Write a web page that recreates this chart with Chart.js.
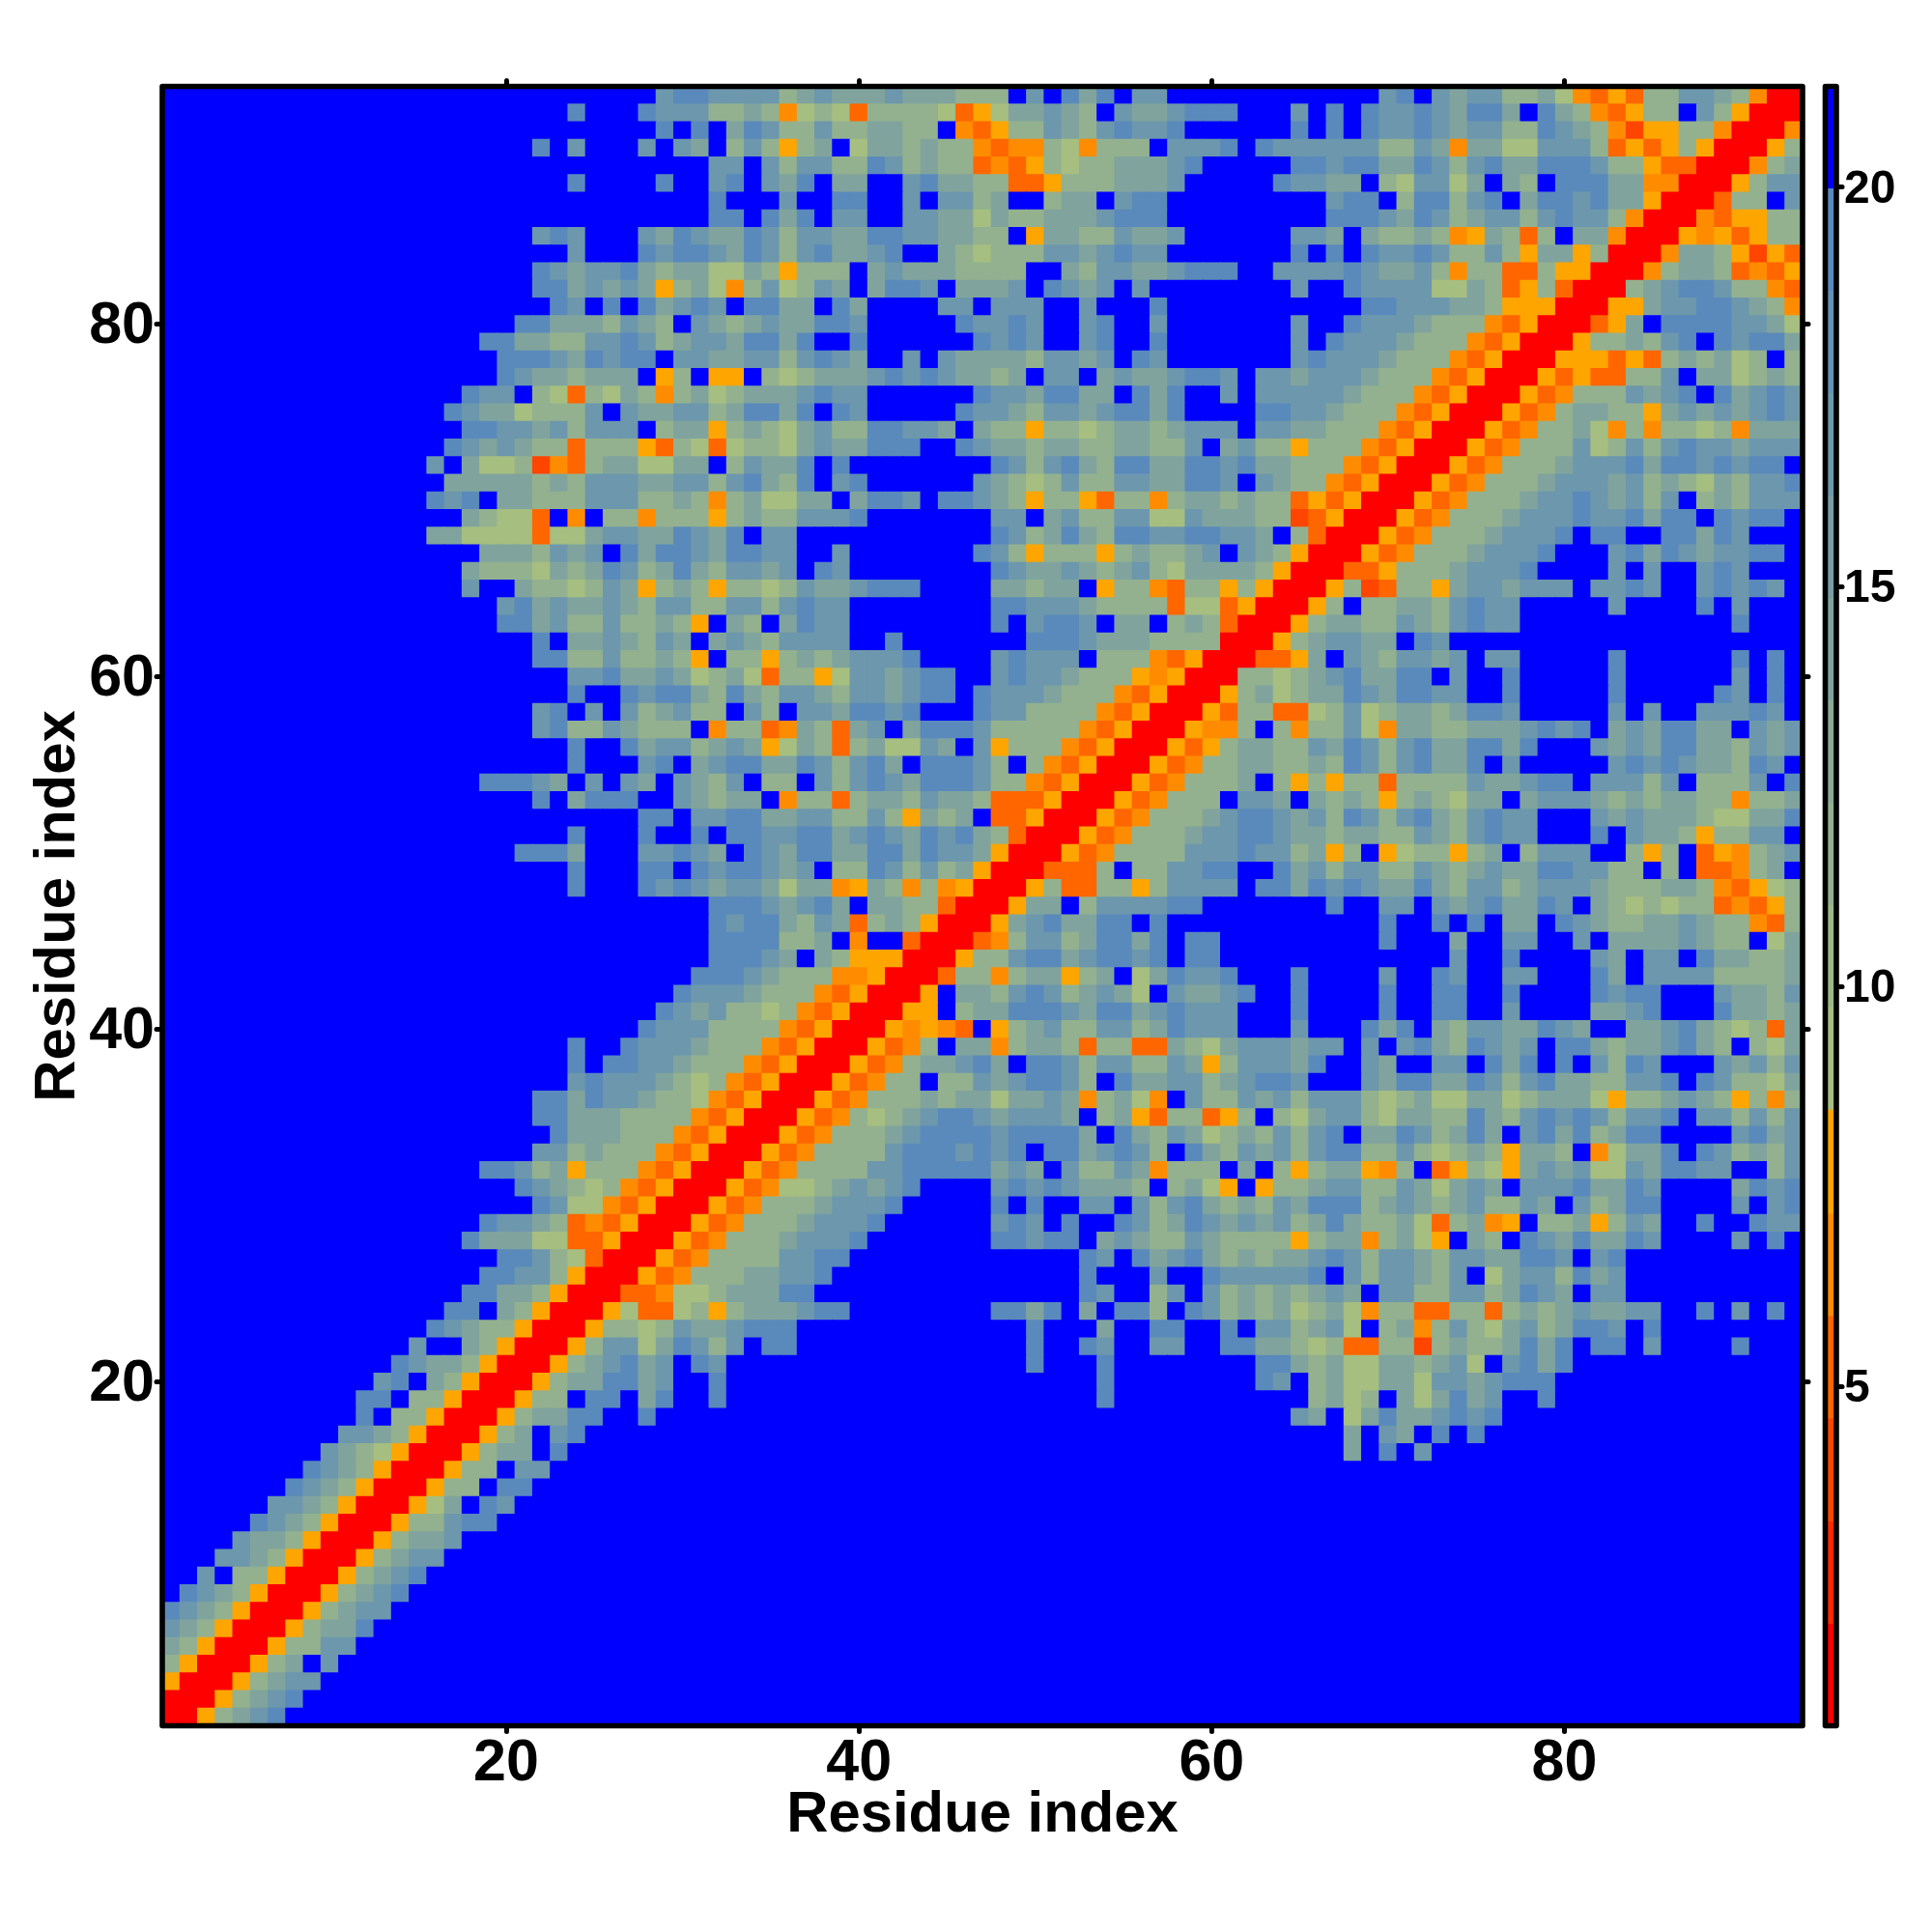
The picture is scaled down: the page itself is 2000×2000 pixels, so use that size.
<!DOCTYPE html>
<html>
<head>
<meta charset="utf-8">
<title>Residue distance map</title>
<script src="https://cdn.jsdelivr.net/npm/chart.js@4/dist/chart.umd.min.js"></script>
<style>
	html, body { margin: 0; padding: 0; background: #fff; }
	canvas { position: absolute; left: 0; top: 0; }
</style>
</head>
<body>
<canvas id="mapChart" width="2000" height="2000"></canvas>
<canvas id="legendChart" width="2000" height="2000"></canvas>
<script>
'use strict';

const axisTitle = 'Residue index';
const residueCount = 93;
const residueTicks = [20, 40, 60, 80];
const legendTicks = [5, 10, 15, 20];

// Colour key: band edges (distance) and the colour of each band
const bandEdges = [0.76, 2.03, 3.31, 4.6, 5.88, 7.16, 8.46, 9.74, 11.02, 12.3, 13.58, 14.86, 16.14, 17.42, 18.7, 19.98, 21.26];
const bandColors = ['#ff0000', '#ff2800', '#ff4500', '#ff6600', '#ff8c00', '#ffa500',
	'#a6be80', '#9db887', '#93b18f', '#8aab96', '#80a49d', '#779ea5', '#6d97ac', '#6491b4', '#5a8abb', '#0000ff'];

// Distance read for each symbol used in the rows below
const symbolValues = { 0: 1.5, d: 3.9, 1: 5.2, 2: 6.5, 3: 7.8, 4: 9, 5: 11.5, 6: 14.2, 7: 16.8, 8: 19.3, 9: 21 };

// Symmetric map, so only x <= y is kept. Rows run from y = 93 downwards.
// Left tiles leave out their leading 9s.
const topLeft = [
	'788', '89998777', '898', '8979997976', '', '89999899', '', '', '7879997687', '79998788',
	'8767786566', '8867676356', '879898678', '88666576597', '8866557787567', '888768788977',
	'876656669359', '87795415465256', '876645557976677', '88776757779566', '876765515553154',
	'796445d215664466', '666665657776677', '8789665557775565', '65441929552555', '6644441446776687',
	'6665767986887', '65554656875686', '79965545763565', '786766765775', '886755755653'
];
const topMiddle = [
	'7777567666766655597986897799999',
	'5565245415555413466765976678889',
	'9687557556655921355765787789999',
	'9575356946656552122542555977789',
	'7797577558756551213545566678999',
	'7897689669978665511355566679999',
	'8999799889979775699566978899999',
	'8898689779977664655666788899999',
	'6687577668877665593665576679999',
	'7687578667899654555776787799999',
	'4465355596766655559965776678889',
	'4257457696887966679876797999999',
	'7988669869999779777997999899999',
	'6567668879999987787997899799999',
	'7688689989999998787997899899999',
	'6677578769979766665776798799999',
	'3395456667878766569779676678879',
	'4566678779999998776886698689979',
	'5688689879999987765776788689999',
	'3565467558877696553554566567779',
	'1455467668889987665665566557967',
	'9576689899999999875786588668878',
	'5786589789999997654575577668879',
	'2564466968879887653553155256656',
	'3565577789999999779675577447666',
	'6897799999999999875686588778877',
	'6887799799999998753555356556797',
	'5776798799999999876676567546666',
	'3554576678889999665669355215535',
	'5775787799999999887776555514413',
	'9659687799999999897887966956510'
];
const topRight = [
	'9999999789767755642131557765200',
	'997989877876886986521355975300',
	'99898987787677558765' + '2d3355200',
	'8777777557626644777513135300',
	'998878866875786688875531100',
	'98776695477469659888662200',
	'9999788958857896887866300',
	'999988876875677578775200',
	'99776965565236515966200',
	'9989898778755753663500',
	'977778766752551153300',
	'99799877774465135100',
	'9999998877766533300',
	'997998777655521300',
	'99798777655521300',
	'9978777655521300',
	'776777655521300',
	'77777655521300',
	'8877655521300',
	'776655521300',
	'55355521300',
	'6655521300',
	'765521300',
	'55131300',
	'55d1300',
	'695100',
	'65300',
	'5300',
	'300',
	'00',
	'0'
];
const midLeft = [
	'8966765769', '8855755653', '77866764', '89987886', '7897975675', '7855765559',
	'89986775', '89997896', '8887697976976', '8968889976', '8897', '89998998',
	'88869997787', '89998898', '89998787', '', '', '', '', '8', '87', '876', '8777',
	'89987776', '89887765', '78777654', '8868776554', '8866655552', '866655521',
	'7756555213', '8875635552130'
];
const midMiddle = [
	'6765777799899999998887666555500',
	'955356567778999978777955521300',
	'56415534776788997877655532300',
	'5865776577678898777655521300',
	'597597768878999877555521300',
	'25512651679688875555521300',
	'6763465156447697355521300',
	'788668757869888759521300',
	'57955975787688875521300',
	'5669255156657665111300',
	'788667755753656911300',
	'98877886787687865100',
	'6987688668868776300',
	'788767955875756300',
	'67764662365252300',
	'8887678696655100',
	'878865761565300',
	'88885569299100',
	'8887696533300',
	'887655522300',
	'77655521300',
	'7554521300',
	'555521300',
	'55521300',
	'5521300',
	'521300',
	'21300',
	'1300',
	'300',
	'00',
	'0'
];
const lowLeft = [
	'87654521300', '874421300', '87765121300', '86664411300', '88754100', '88775300', '88665300',
	'88965300', '87655300', '79965300', '87665300', '78965300', '88955300', '8955300', '7765300',
	'7654300', '8765300', '8765300', '7765300', '8765300', '7665300', '7765300', '7955300',
	'8765300', '8765300', '765300', '65300', '5300', '300', '00', '0'
];

const upperRows = [
	...topLeft.map((row, k) => row.padStart(31, '9') + topMiddle[k] + topRight[k]),
	...midLeft.map((row, k) => row.padStart(31, '9') + midMiddle[k]),
	...lowLeft.map((row, k) => row.padStart(31 - k, '9'))
];

function valueAt(x, y) {
	const row = upperRows[residueCount - Math.max(x, y)];
	return symbolValues[row[Math.min(x, y) - 1]];
}

function colorOf(value) {
	let band = 0;
	while (band < bandColors.length - 1 && value >= bandEdges[band + 1]) {
		band++;
	}
	return bandColors[band];
}

const cells = [];
for (let y = residueCount; y >= 1; y--) {
	for (let x = 1; x <= residueCount; x++) {
		cells.push({ x: x, y: y, v: valueAt(x, y) });
	}
}

const fontFamily = '"Liberation Sans", Arial, sans-serif';
Chart.defaults.color = '#000';
Chart.defaults.font.family = fontFamily;
Chart.defaults.font.weight = 'bold';

// Heavy frame with round corners, and round ticks
const framePlugin = {
	id: 'frame',
	beforeDraw(chart) {
		chart.ctx.lineCap = 'round';
	},
	afterDraw(chart) {
		const { ctx, chartArea: a } = chart;
		ctx.save();
		ctx.lineWidth = 5.6;
		ctx.lineJoin = 'round';
		ctx.strokeStyle = '#000';
		ctx.strokeRect(a.left, a.top, a.right - a.left, a.bottom - a.top);
		ctx.restore();
	}
};

// Vertical tick labels sit 2.5px under their tick: blank first line and a 5px line height
function loweredLabel(value) {
	return ['', String(value)];
}

function edgeAxis(position, size, extra) {
	return Object.assign({
		type: 'linear',
		position: position,
		min: 0.5,
		max: residueCount + 0.5,
		border: { display: false },
		grid: { drawOnChartArea: false, drawTicks: true, tickLength: 6, tickWidth: 5, tickColor: '#000' },
		ticks: { display: false },
		afterBuildTicks(scale) {
			scale.ticks = residueTicks.map(value => ({ value: value }));
		},
		afterFit(scale) {
			if (scale.isHorizontal()) {
				scale.height = size;
			} else {
				scale.width = size;
			}
		}
	}, extra);
}

new Chart(document.getElementById('mapChart'), {
	type: 'scatter',
	data: {
		datasets: [{
			data: cells,
			xAxisID: 'x',
			yAxisID: 'y',
			pointStyle: 'rect',
			borderWidth: 0,
			pointBackgroundColor: cells.map(cell => colorOf(cell.v)),
			pointRadius(context) {
				const scale = context.chart.scales.x;
				return (scale.getPixelForValue(2) - scale.getPixelForValue(1) + 1) * Math.SQRT1_2;
			}
		}]
	},
	options: {
		responsive: false,
		animation: false,
		events: [],
		layout: { padding: 0 },
		plugins: { legend: { display: false }, tooltip: { enabled: false } },
		scales: {
			x: edgeAxis('bottom', 213.5, {
				ticks: { display: true, font: { size: 61, weight: 'bold' }, padding: -2.5, maxRotation: 0, autoSkip: false },
				title: { display: true, text: axisTitle, font: { size: 59.8, weight: 'bold' }, padding: { top: 0, bottom: 84.5 } }
			}),
			y: edgeAxis('left', 168, {
				ticks: { display: true, font: { size: 61, weight: 'bold', lineHeight: '5px' }, padding: 2, autoSkip: false, callback: loweredLabel },
				title: { display: true, text: axisTitle, font: { size: 59.8, weight: 'bold' }, padding: { top: 25, bottom: 0 } }
			}),
			xTop: edgeAxis('top', 89.5),
			yRight: edgeAxis('right', 134)
		}
	},
	plugins: [framePlugin]
});

// Colour key: one floating bar per band, on its own value axis
new Chart(document.getElementById('legendChart'), {
	type: 'bar',
	data: {
		labels: [''],
		datasets: bandColors.map((color, i) => ({
			data: [[bandEdges[i], bandEdges[i + 1]]],
			backgroundColor: color,
			grouped: false,
			barPercentage: 1,
			categoryPercentage: 1,
			yAxisID: 'value'
		}))
	},
	options: {
		responsive: false,
		animation: false,
		events: [],
		layout: { padding: { left: 1889.5, top: 89.5, bottom: 213.5, right: 0 } },
		plugins: { legend: { display: false }, tooltip: { enabled: false } },
		scales: {
			x: { display: false },
			value: {
				type: 'linear',
				position: 'right',
				min: bandEdges[0],
				max: bandEdges[bandEdges.length - 1],
				border: { display: false },
				grid: { drawOnChartArea: false, tickLength: 6, tickWidth: 5, tickColor: '#000' },
				ticks: { font: { size: 48, weight: 'bold', lineHeight: '5px' }, padding: 2, autoSkip: false, callback: loweredLabel },
				afterBuildTicks(scale) {
					scale.ticks = legendTicks.map(value => ({ value: value }));
				},
				afterFit(scale) {
					scale.width = 99;
				}
			}
		}
	},
	plugins: [framePlugin]
});
</script>
</body>
</html>
